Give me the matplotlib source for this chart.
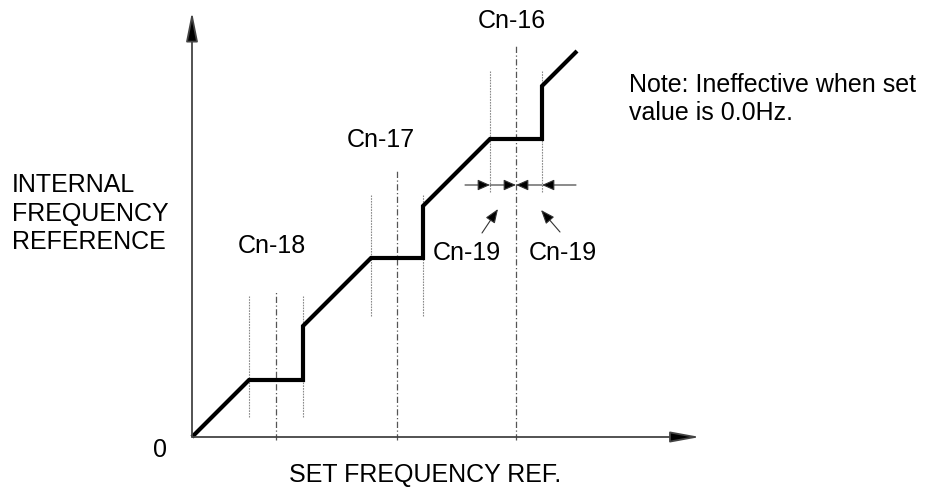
import matplotlib.pyplot as plt

# curve of internal frequency reference vs set frequency (diagram units)
curve_x = [0, 57, 111, 111, 179, 231, 231, 298, 350, 350, 385]
curve_y = [0, 57, 57, 111, 179, 179, 231, 298, 298, 351, 386]

# jump centres and their constant names
jump_names = ['Cn-18', 'Cn-17', 'Cn-16']
jump_centers = [84, 205, 324]
jump_tops = [145, 267, 392]
# band edges (width = Cn-19 on each side)
band_edges = [(57, 111), (179, 231), (298, 350)]
band_levels = [80, 181, 305]

y_label_lines = ['INTERNAL', 'FREQUENCY', 'REFERENCE']
note_lines = ['Note: Ineffective when set', 'value is 0.0Hz.']

plt.rcParams['font.family'] = ['Liberation Sans', 'DejaVu Sans']


def arrow(ax, start, end, hl, hw, lw=1.0, color='#333333', head='black'):
    ax.annotate('', xy=end, xytext=start,
                arrowprops=dict(arrowstyle='-|>,head_length=%s,head_width=%s' % (hl, hw),
                                lw=lw, color=color, fc=head, ec=color,
                                shrinkA=0, shrinkB=0))


def main():
    fig = plt.figure(figsize=(9.33, 4.88), dpi=100)
    ax = fig.add_axes([0, 0, 1, 1])
    ax.set_xlim(-192, 741)
    ax.set_ylim(-51, 437)
    ax.axis('off')

    # axes with arrows
    arrow(ax, (0, 0), (0, 425), 1.8, 0.36, lw=1.3, color='#444444')
    arrow(ax, (0, 0), (508, 0), 1.8, 0.33, lw=1.3, color='#444444')

    # centre lines
    for xc, top in zip(jump_centers, jump_tops):
        ax.plot([xc, xc], [-3, top], color='#555555', lw=0.9,
                linestyle=(0, (5, 2, 1, 2)))

    # band edge lines
    for (a, b), lev in zip(band_edges, band_levels):
        for xe in (a, b):
            ax.plot([xe, xe], [lev - 60, lev + 61], color='#8a8a8a', lw=0.8,
                    linestyle=(0, (1.5, 1)))

    ax.plot(curve_x, curve_y, color='black', lw=3, solid_joinstyle='miter',
            solid_capstyle='butt')

    # Cn-19 dimension arrows
    a, b = band_edges[2]
    c = jump_centers[2]
    dim_y = 252
    arrow(ax, (a - 25, dim_y), (a, dim_y), 0.75, 0.33, lw=0.8)
    arrow(ax, (a, dim_y), (c, dim_y), 0.75, 0.33, lw=0.8)
    arrow(ax, (b, dim_y), (c, dim_y), 0.75, 0.33, lw=0.8)
    arrow(ax, (b + 34, dim_y), (b, dim_y), 0.75, 0.33, lw=0.8)

    # leaders to Cn-19 labels
    arrow(ax, (290, 204), (306, 228), 0.85, 0.33, lw=0.8)
    arrow(ax, (368, 205), (349, 227), 0.85, 0.33, lw=0.8)

    fs = 18
    ax.text(80, 184, jump_names[0], fontsize=fs, ha='center', va='baseline')
    ax.text(189, 290, jump_names[1], fontsize=fs, ha='center', va='baseline')
    ax.text(320, 409, jump_names[2], fontsize=fs, ha='center', va='baseline')
    ax.text(275, 177, 'Cn-19', fontsize=fs, ha='center', va='baseline')
    ax.text(371, 177, 'Cn-19', fontsize=fs, ha='center', va='baseline')

    for i, line in enumerate(y_label_lines):
        ax.text(-180, 245 - 28.5 * i, line, fontsize=fs, ha='left', va='baseline')
    for i, line in enumerate(note_lines):
        ax.text(437, 345 - 28.5 * i, line, fontsize=fs, ha='left', va='baseline')

    ax.text(-32, -20, '0', fontsize=fs, ha='center', va='baseline')
    ax.text(233, -45, 'SET FREQUENCY REF.', fontsize=fs, ha='center', va='baseline')

    fig.savefig('out.png', dpi=100)


if __name__ == '__main__':
    main()
